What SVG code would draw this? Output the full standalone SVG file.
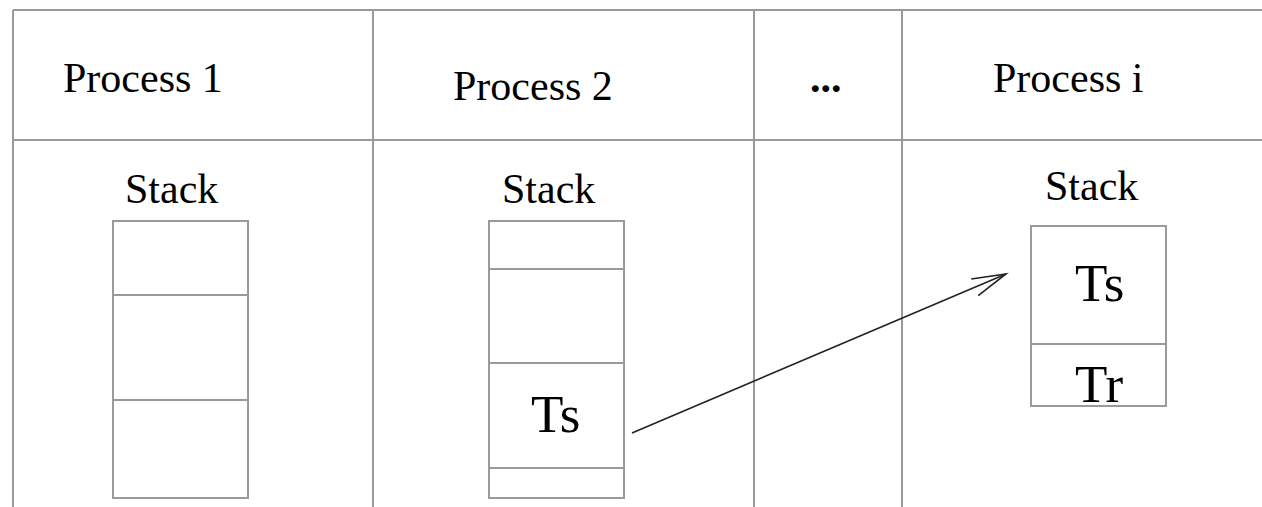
<svg xmlns="http://www.w3.org/2000/svg" width="1262" height="507" viewBox="0 0 1262 507">
<style>
.grid{stroke:#9a9a9a;stroke-width:2;fill:none}
.box{stroke:#9a9a9a;stroke-width:2;fill:#fff}
.t{font-family:"Liberation Serif","Times New Roman",serif;fill:#000}
.h{font-size:42px}
.big{font-size:53px}
.conn{stroke:#222;stroke-width:1.6;fill:none}
</style>
<defs>
<marker id="open" markerUnits="userSpaceOnUse" markerWidth="40" markerHeight="24" refX="0" refY="0" viewBox="-36 -12 40 24" orient="auto" overflow="visible">
<path d="M -34,-9 L 0,0 L -34,9" fill="none" stroke="#222" stroke-width="1.6"/>
</marker>
</defs>
<rect width="1262" height="507" fill="#fff"/>
<g id="table">
<line class="grid" x1="13" y1="10" x2="1262" y2="10"/>
<line class="grid" x1="13" y1="140" x2="1262" y2="140"/>
<line class="grid" x1="13" y1="10" x2="13" y2="507"/>
<line class="grid" x1="373" y1="10" x2="373" y2="507"/>
<line class="grid" x1="754" y1="10" x2="754" y2="507"/>
<line class="grid" x1="902" y1="10" x2="902" y2="507"/>
</g>
<g id="header">
<text class="t h" x="63" y="92">Process 1</text>
<text class="t h" x="453" y="100">Process 2</text>
<text class="t h" x="810" y="92" font-weight="bold">...</text>
<text class="t h" x="993" y="92">Process i</text>
</g>
<g id="stack1">
<text class="t h" x="125" y="203">Stack</text>
<rect class="box" x="113" y="221" width="135" height="277"/>
<line class="grid" x1="113" y1="295" x2="248" y2="295"/>
<line class="grid" x1="113" y1="400" x2="248" y2="400"/>
</g>
<g id="stack2">
<text class="t h" x="502" y="203">Stack</text>
<rect class="box" x="489" y="221" width="135" height="277"/>
<line class="grid" x1="489" y1="269" x2="624" y2="269"/>
<line class="grid" x1="489" y1="363" x2="624" y2="363"/>
<line class="grid" x1="489" y1="468" x2="624" y2="468"/>
<text class="t big" x="531" y="432">Ts</text>
</g>
<g id="stacki">
<text class="t h" x="1045" y="200">Stack</text>
<rect class="box" x="1031" y="226" width="135" height="180"/>
<line class="grid" x1="1031" y1="344" x2="1166" y2="344"/>
<text class="t big" x="1075" y="301">Ts</text>
<text class="t big" x="1075" y="402">Tr</text>
</g>
<g id="connectors">
<line class="conn" x1="632" y1="433" x2="1006" y2="274" marker-end="url(#open)"/>
</g>
</svg>
